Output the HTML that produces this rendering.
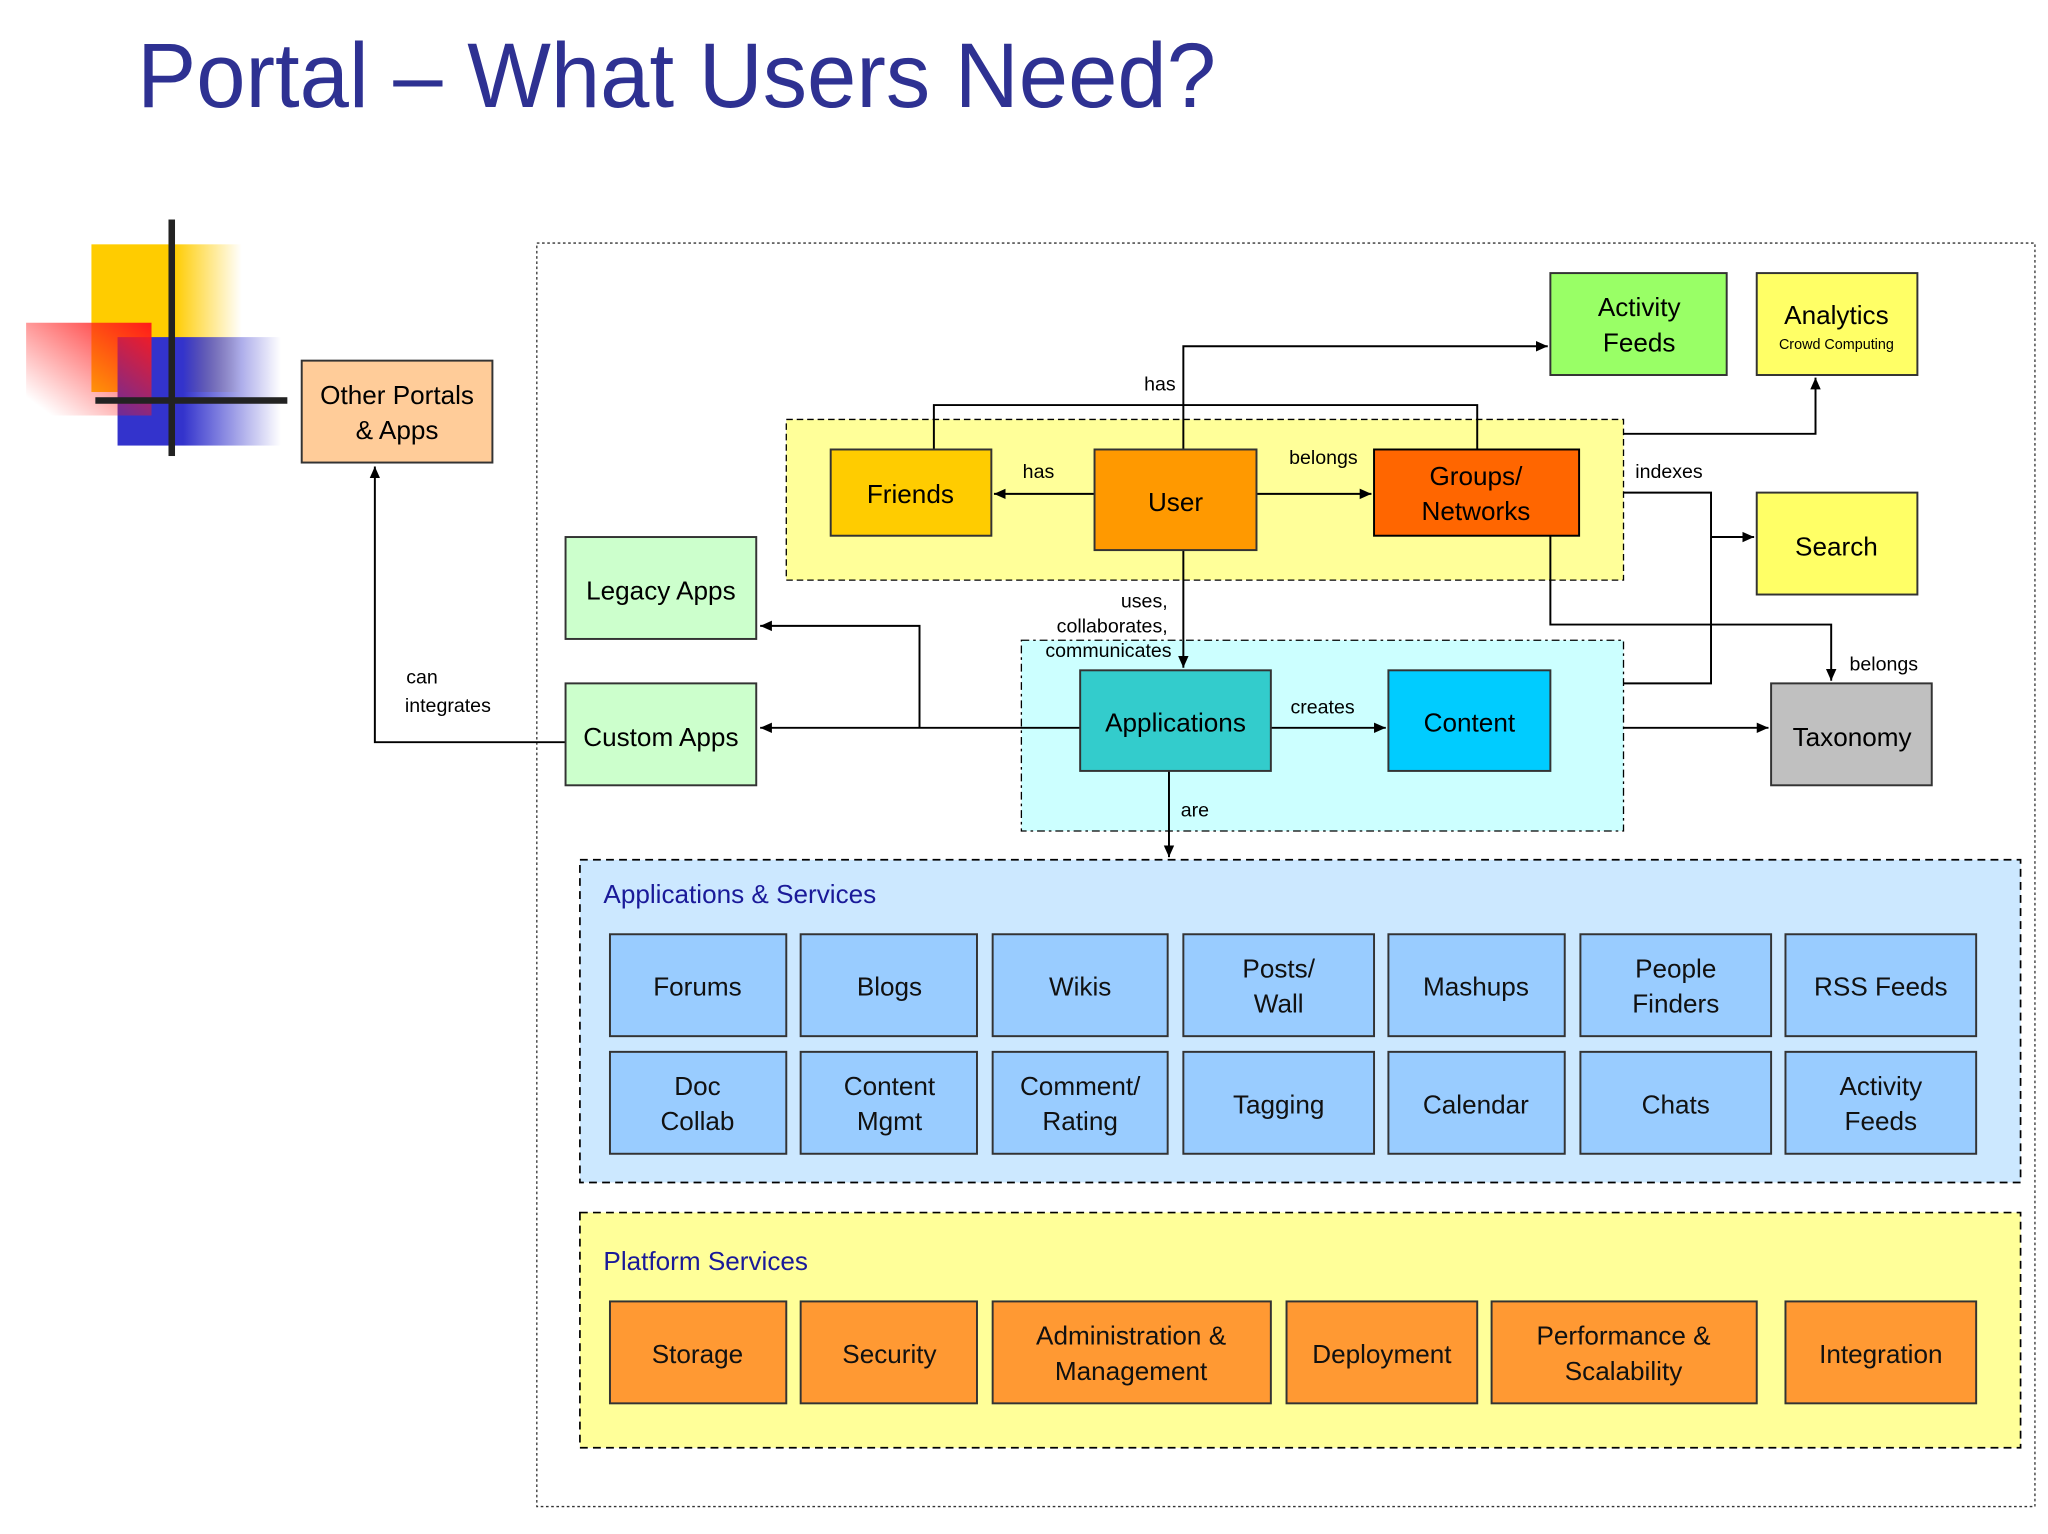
<!DOCTYPE html>
<html><head><meta charset="utf-8"><style>
html,body{margin:0;padding:0;background:#fff;}
svg{display:block;}
text{font-family:"Liberation Sans","DejaVu Sans",sans-serif;}
</style></head><body>
<svg width="2048" height="1534" viewBox="0 0 1568 1174" preserveAspectRatio="none" xmlns="http://www.w3.org/2000/svg">
<defs>
<linearGradient id="gy" x1="0" x2="1"><stop offset="0.55" stop-color="#FFCC00"/><stop offset="1" stop-color="#FFCC00" stop-opacity="0"/></linearGradient>
<linearGradient id="gb" x1="0" x2="1"><stop offset="0.4" stop-color="#3333CC"/><stop offset="1" stop-color="#3333CC" stop-opacity="0"/></linearGradient>
<linearGradient id="gr" x1="1" y1="0" x2="0" y2="1"><stop offset="0" stop-color="#FF1A1A"/><stop offset="0.9" stop-color="#FF1A1A" stop-opacity="0"/></linearGradient>
<marker id="a" markerWidth="10" markerHeight="10" refX="9" refY="5" orient="auto" markerUnits="userSpaceOnUse"><path d="M0,1 L9,5 L0,9 z" fill="#000"/></marker>
</defs>
<rect width="1568" height="1174" fill="#fff"/>
<text x="105" y="82" font-size="70" fill="#2E3192" textLength="826" lengthAdjust="spacingAndGlyphs">Portal – What Users Need?</text>
<!-- logo -->
<rect x="70" y="187" width="115" height="113" fill="url(#gy)"/>
<rect x="90" y="258" width="125" height="83" fill="url(#gb)"/>
<rect x="20" y="247" width="96" height="71" fill="url(#gr)"/>
<rect x="129" y="168" width="5" height="181" fill="#222"/>
<rect x="73" y="304" width="147" height="5" fill="#222"/>
<!-- outer -->
<rect x="411" y="186" width="1147" height="967" fill="none" stroke="#333" stroke-dasharray="2,2"/>
<!-- containers -->
<rect x="602" y="321" width="641" height="123" fill="#FFFF99" stroke="#000" stroke-dasharray="5,3"/>
<rect x="782" y="490" width="461" height="146" fill="#CCFFFF" stroke="#000" stroke-dasharray="6,3,2,3"/>
<rect x="444" y="658" width="1103" height="247" fill="#CCE8FF" stroke="#000" stroke-dasharray="6,4" stroke-width="1.3"/>
<rect x="444" y="928" width="1103" height="180" fill="#FFFF99" stroke="#000" stroke-dasharray="6,4" stroke-width="1.3"/>
<text x="462" y="691" font-size="20" fill="#1a1a99">Applications &amp; Services</text>
<text x="462" y="972" font-size="20" fill="#1a1a99">Platform Services</text>
<!-- connectors -->
<g stroke="#000" stroke-width="1.5" fill="none">
<path d="M906,344 V265 H1185" marker-end="url(#a)"/>
<path d="M715,344 V310 H1131 V344"/>
<path d="M838,378 H761" marker-end="url(#a)"/>
<path d="M962,378 H1050" marker-end="url(#a)"/>
<path d="M1243,332 H1390 V289" marker-end="url(#a)"/>
<path d="M1243,377 H1310 V523 H1243"/>
<path d="M1310,411 H1343" marker-end="url(#a)"/>
<path d="M1187,410 V478 H1402 V521" marker-end="url(#a)"/>
<path d="M906,421 V511" marker-end="url(#a)"/>
<path d="M827,557 H582" marker-end="url(#a)"/>
<path d="M704,557 V479 H582" marker-end="url(#a)"/>
<path d="M973,557 H1061" marker-end="url(#a)"/>
<path d="M1243,557 H1354" marker-end="url(#a)"/>
<path d="M895,590 V656" marker-end="url(#a)"/>
<path d="M433,568 H287 V357" marker-end="url(#a)"/>
</g>
<g font-size="15" fill="#000">
<text x="876" y="299">has</text>
<text x="783" y="366">has</text>
<text x="987" y="355">belongs</text>
<text x="1252" y="366">indexes</text>
<text x="1416" y="513">belongs</text>
<text x="894" y="465" text-anchor="end">uses,</text>
<text x="894" y="484" text-anchor="end">collaborates,</text>
<text x="897" y="503" text-anchor="end">communicates</text>
<text x="988" y="546">creates</text>
<text x="904" y="625">are</text>
<text x="311" y="523">can</text>
<text x="310" y="545">integrates</text>
</g>
<!-- nodes -->
<g stroke="#333" stroke-width="1.5" font-size="20">
<rect x="231" y="276" width="146" height="78" fill="#FFCC99"/>
<rect x="433" y="411" width="146" height="78" fill="#CCFFCC"/>
<rect x="433" y="523" width="146" height="78" fill="#CCFFCC"/>
<rect x="636" y="344" width="123" height="66" fill="#FFCC00"/>
<rect x="838" y="344" width="124" height="77" fill="#FF9900"/>
<rect x="1052" y="344" width="157" height="66" fill="#FF6600" stroke="#000"/>
<rect x="1187" y="209" width="135" height="78" fill="#99FF66"/>
<rect x="1345" y="209" width="123" height="78" fill="#FFFF66"/>
<rect x="1345" y="377" width="123" height="78" fill="#FFFF66"/>
<rect x="1356" y="523" width="123" height="78" fill="#C0C0C0"/>
<rect x="827" y="513" width="146" height="77" fill="#33CCCC"/>
<rect x="1063" y="513" width="124" height="77" fill="#00CCFF"/>
</g>
<g font-size="20" fill="#000" text-anchor="middle">
<text x="304" y="309">Other Portals</text><text x="304" y="336">&amp; Apps</text>
<text x="506" y="459">Legacy Apps</text>
<text x="506" y="571">Custom Apps</text>
<text x="697" y="385">Friends</text>
<text x="900" y="391">User</text>
<text x="1130" y="371">Groups/</text><text x="1130" y="398">Networks</text>
<text x="1255" y="242">Activity</text><text x="1255" y="269">Feeds</text>
<text x="1406" y="248">Analytics</text>
<text x="1406" y="267" font-size="11">Crowd Computing</text>
<text x="1406" y="425">Search</text>
<text x="1418" y="571">Taxonomy</text>
<text x="900" y="560">Applications</text>
<text x="1125" y="560">Content</text>
</g>
<!-- app tiles -->
<g stroke="#333" stroke-width="1.5" fill="#99CCFF">
<rect x="467" y="715" width="135" height="78"/><rect x="613" y="715" width="135" height="78"/><rect x="760" y="715" width="134" height="78"/><rect x="906" y="715" width="146" height="78"/><rect x="1063" y="715" width="135" height="78"/><rect x="1210" y="715" width="146" height="78"/><rect x="1367" y="715" width="146" height="78"/>
<rect x="467" y="805" width="135" height="78"/><rect x="613" y="805" width="135" height="78"/><rect x="760" y="805" width="134" height="78"/><rect x="906" y="805" width="146" height="78"/><rect x="1063" y="805" width="135" height="78"/><rect x="1210" y="805" width="146" height="78"/><rect x="1367" y="805" width="146" height="78"/>
</g>
<g stroke="#333" stroke-width="1.5" fill="#FF9933">
<rect x="467" y="996" width="135" height="78"/><rect x="613" y="996" width="135" height="78"/><rect x="760" y="996" width="213" height="78"/><rect x="985" y="996" width="146" height="78"/><rect x="1142" y="996" width="203" height="78"/><rect x="1367" y="996" width="146" height="78"/>
</g>
<g font-size="20" fill="#111" text-anchor="middle">
<text x="534" y="762">Forums</text>
<text x="681" y="762">Blogs</text>
<text x="827" y="762">Wikis</text>
<text x="979" y="748">Posts/</text><text x="979" y="775">Wall</text>
<text x="1130" y="762">Mashups</text>
<text x="1283" y="748">People</text><text x="1283" y="775">Finders</text>
<text x="1440" y="762">RSS Feeds</text>
<text x="534" y="838">Doc</text><text x="534" y="865">Collab</text>
<text x="681" y="838">Content</text><text x="681" y="865">Mgmt</text>
<text x="827" y="838">Comment/</text><text x="827" y="865">Rating</text>
<text x="979" y="852">Tagging</text>
<text x="1130" y="852">Calendar</text>
<text x="1283" y="852">Chats</text>
<text x="1440" y="838">Activity</text><text x="1440" y="865">Feeds</text>
<text x="534" y="1043">Storage</text>
<text x="681" y="1043">Security</text>
<text x="866" y="1029">Administration &amp;</text><text x="866" y="1056">Management</text>
<text x="1058" y="1043">Deployment</text>
<text x="1243" y="1029">Performance &amp;</text><text x="1243" y="1056">Scalability</text>
<text x="1440" y="1043">Integration</text>
</g>
</svg>
</body></html>
